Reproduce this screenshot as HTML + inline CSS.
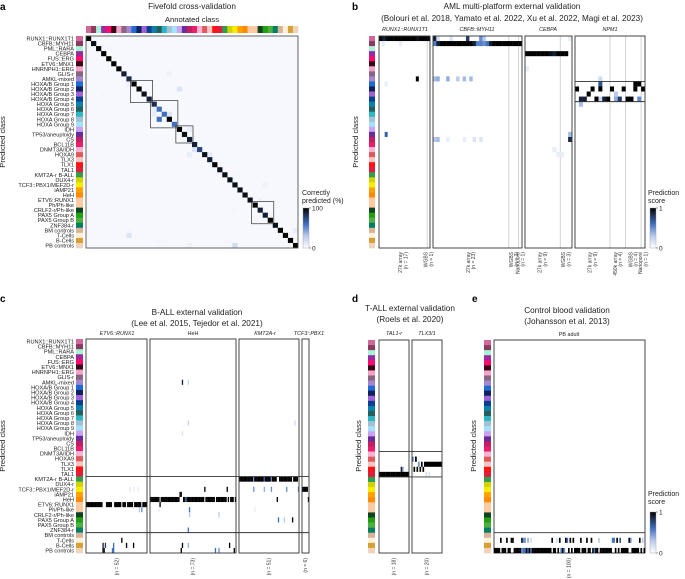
<!DOCTYPE html>
<html><head><meta charset="utf-8">
<style>
html,body{margin:0;padding:0;background:#fff;}
svg{display:block;font-family:"Liberation Sans",sans-serif;}
</style></head>
<body>
<svg id="fig" width="685" height="579" viewBox="0 0 685 579" xmlns="http://www.w3.org/2000/svg">
<defs>
<linearGradient id="cbar" x1="0" y1="1" x2="0" y2="0">
<stop offset="0" stop-color="#ffffff"/><stop offset="0.3" stop-color="#b9cbec"/><stop offset="0.6" stop-color="#3f6fbf"/><stop offset="0.85" stop-color="#1c2c4c"/><stop offset="1" stop-color="#000000"/>
</linearGradient>
</defs>
<g font-weight="bold" font-size="10">
<text x="0" y="10">a</text>
<text x="352" y="10">b</text>
<text x="0" y="302">c</text>
<text x="352" y="302">d</text>
<text x="472" y="302">e</text>
</g>
<g font-size="8.2" text-anchor="middle" fill="#222">
<text x="192" y="9">Fivefold cross-validation</text>
<text x="192" y="22" font-size="7.6">Annotated class</text>
<text x="512" y="9">AML multi-platform external validation</text>
<text x="512" y="21">(Bolouri et al. 2018, Yamato et al. 2022, Xu et al. 2022, Magi et al. 2023)</text>
<text x="197" y="315">B-ALL external validation</text>
<text x="197" y="326">(Lee et al. 2015, Tejedor et al. 2021)</text>
<text x="410" y="311">T-ALL external validation</text>
<text x="410" y="322">(Roels et al. 2020)</text>
<text x="567" y="313">Control blood validation</text>
<text x="567" y="324">(Johansson et al. 2013)</text>
</g>
<g font-size="7" fill="#222">
<text x="302" y="195">Correctly</text>
<text x="302" y="203">predicted (%)</text>
<text x="648" y="195">Prediction</text>
<text x="648" y="203">score</text>
<text x="648" y="496">Prediction</text>
<text x="648" y="504">score</text>
</g>
<g id="root"></g>
</svg>
<script>
// ---- data ----
const classes = ["RUNX1::RUNX1T1","CBFB::MYH11","PML::RARA","CEBPA","FUS::ERG","ETV6::MNX1","HNRNPH1::ERG","GLIS-r","AMKL-mixed","HOXA/B Group 1","HOXA/B Group 2","HOXA/B Group 3","HOXA/B Group 4","HOXA Group 5","HOXA Group 6","HOXA Group 7","HOXA Group 8","HOXA Group 9","IDH","TP53/aneuploidy","CS","BCL11B","DNMT3A/IDH","HOXA9","TLX3","TLX1","TAL1","KMT2A-r B-ALL","DUX4-r","TCF3::PBX1/MEF2D-r","iAMP21","HeH","ETV6::RUNX1","Ph/Ph-like","CRLF2-r/Ph-like","PAX5 Group A","PAX5 Group B","ZNF384-r","BM controls","T-Cells","B-Cells","PB controls"];
const classColors = ["#d0699a","#8c3b5f","#a6f2d6","#9b2a9e","#ff0a6c","#3a0715","#f7a1c9","#8a6580","#a585d2","#1e6cd2","#11215f","#a062d6","#0b3f8f","#0b7fae","#25605c","#2fb6c6","#a2c1d2","#a4e1ff","#c9a2f0","#6a2c9a","#c21f62","#ea1f6a","#f8b2d2","#df5a5a","#f7c3c3","#ff1414","#df1f3b","#2f9e4e","#d2d200","#f8ec00","#ffa200","#ff8a00","#ffc9a2","#ffc9a2","#0f4420","#22a012","#4fb040","#008062","#d9b29a","#fff0d8","#d8a032","#f0d3bb"];
// panel a
const diagA = [1,0.95,1,1,1,1,1,0.9,0.85,1,1,0.95,0.9,0.85,0.6,0.6,1,0.6,1,0.95,0.9,0.9,0.75,0.95,0.9,1,0.95,0.95,0.95,0.95,0.95,0.95,0.95,1,0.9,0.9,1,0.95,1,1,1,1];
const offA = [[0,0,0],[8,9,0.08],[16,7,0.08],[18,10,0.15],[3,11,0.05],[13,14,0.1],[13,15,0.1],[14,16,0.6],[16,16,0.4],[16,15,0.15],[8,16,0.05],[20,18,0.1],[19,19,0.1],[27,16,0.05],[21,22,0.15],[20,23,0.1],[24,23,0.1],[26,25,0.05],[25,24,0.05],[29,27,0.05],[35,29,0.08],[30,30,0.1],[31,31,0.05],[34,32,0.08],[29,34,0.05],[33,36,0.05],[27,40,0.05],[8,38,0.05],[8,39,0.15],[29,41,0.2],[20,41,0.08],[14,41,0.05],[41,38,0.1],[4,2,0.05]];
// panel b
const bRunxPred = [0,0,0,0,0,0,0,0,0,0,0,0,0,0,0,0,0,0];
const bRunxScore = [1,0.9,0.95,1,1,1,1,1,1,1,1,1,1,0.95,1,1,1,1];
const bRunxExtra = [[13,8,1],[2,19,0.65],[1,1,0.1],[7,1,0.1],[2,9,0.1]];
const bCbfbPred = [1,1,1,1,1,1,1,1,1,1,1,1,1,1,1,1,1,1,1,1,1,1,1,1,1,1,1];
const bCbfbScore = [0.55,0.9,1,1,1,1,1,1,1,1,1,1,0.9,0.55,0.55,0.5,0.6,0.9,1,1,1,1,1,1,1,1,1];
const bCbfbExtra = [[0,0,0.9],[1,0,0.2],[5,0,0.15],[10,0,0.8],[14,0,0.5],[15,0,0.3],[0,8,0.35],[1,8,0.4],[4,8,0.4],[7,8,0.3],[9,8,0.35],[11,8,0.35],[0,20,0.3],[1,20,0.35],[4,20,0.1],[9,20,0.1],[12,20,0.15],[14,20,0.15]];
const bCebpaPred = [3,3,3,3,3,3,3,3,3,3,3,20];
const bCebpaScore = [1,1,1,1,1,1,0.95,0.9,1,1,1,0.85];
const bCebpaExtra = [[11,19,0.35],[7,22,0.1],[8,23,0.1],[9,23,0.1],[11,0,0.1],[0,6,0.1]];
const bNpmPred = [10,12,12,11,10,12,10,12,12,10,12,12,10,12,12,9,9,10];
const bNpmScore = [1,0.9,0.9,1,1,1,1,0.9,1,1,0.4,0.8,1,1,1,1,1,1];
const bNpmExtra = [[1,13,0.35],[6,8,0.2],[6,9,0.7],[6,12,0.2],[10,11,0.3],[15,10,1],[16,12,0.5]];
// panel c
const cEtvPred = [32,32,32,32,32,32,32,32,32,32,32,32,32,32,40,41,40,32,32,32,32,32,41,40,32,32,32,32,32,32,39,32,32,32,40,32,32,32,32,32,40,32,32,32,32,32,32,33,32,32,32,32];
const cEtvScore = [1,1,1,1,1,1,1,1,1,1,1,1,1,1,0.9,0.9,0.8,1,1,1,1,1,0.6,0.6,1,1,1,1,1,1,1,1,1,1,1,1,1,1,1,1,1,1,1,1,1,1,1,0.5,1,1,1,1];
const cHehPred = [31,31,31,31,31,31,31,31,32,31,31,31,31,31,31,31,31,31,31,31,31,31,31,31,31,30,41,40,31,31,31,31,31,31,31,31,31,31,31,31,31,31,31,31,31,31,29,31,31,31,31,31,31,31,31,41,31,31,31,31,31,31,31,31,31,29,31,40,31,31,31,41,31];
const cHehScore = [1,1,1,1,1,1,1,1,1,1,1,1,1,1,1,1,1,1,1,1,1,1,1,1,1,1,1,1,1,1,0.5,1,1,1,1,1,1,1,1,1,1,1,1,1,1,1,1,1,1,1,1,1,1,1,1,0.6,1,1,1,1,1,1,1,1,1,1,1,1,1,1,1,1,1];
const cKmtPred = [27,27,27,27,27,27,27,27,27,27,27,27,27,27,27,27,27,27,27,27,27,27,27,27,27,27,27,27,27,27,27,27,31,35,27,27,27,27,27,27,27,27,27,27,27,35,27,27,27,27,29];
const cKmtScore = [1,1,1,1,1,1,1,1,1,1,1,1,0.5,1,1,1,1,1,1,1,1,0.6,1,1,1,1,1,0.5,1,1,1,1,1,0.6,1,1,1,1,1,1,1,1,1,1,1,1,1,1,1,1,0.5];
const cTcfPred = [29,29,29,29,29,31];
const cTcfScore = [1,1,1,1,1,1];
// panel d
const dTalPred = [26,26,26,26,26,26,26,26,26,26,26,26,26,26,26,26,26,26];
const dTalExtra = [[13,25,0.9],[14,25,0.3]];
const dTlxPred = [23,25,23,25,24,25,24,25,24,24,24,24,24,24,24,24,24,24,24,24];
const dTlxScore = [0.6,1,1,1,0.5,1,1,1,1,1,1,1,1,1,1,1,1,1,1,1];
// panel e
const eTcellIdx = [4,8,11,12,18,19,20,22,24,38,41,43,47,48,50,52,57,61,64,69,78,79,81,83,89,90,96,98];
const eTcellScore = [1,1,1,1,1,0.5,0.5,0.4,0.2,1,0.2,1,1,0.6,1,1,1,1,1,0.3,0.6,0.6,1,0.7,1,0.5,1,0.3];
const ePbScore = [1,1,1,1,0,1,1,1,0,1,1,0,0,1,1,1,1,1,0.5,0.6,0.6,1,0.7,1,0.6,1,1,1,1,1,1,1,1,1,1,1,1,1,0,1,1,0,1,0,0.6,1,0.5,0,0,1,0,1,0,1,1,1,1,0,1,1,1,0,1,1,0,1,0.6,1,1,0,1,1,1,1,1,1,1,1,0,0,1,0,1,0,1,1,1,1,1,0,0,1,1,1,1,1,0,1,0,1];

// ---- helpers ----
const NS="http://www.w3.org/2000/svg";
const root=document.getElementById('root');
function mk(tag,attrs,parent){const e=document.createElementNS(NS,tag);for(const k in attrs)e.setAttribute(k,attrs[k]);(parent||root).appendChild(e);return e;}
const stops=[[0,[255,255,255]],[0.3,[185,203,236]],[0.6,[63,111,191]],[0.85,[28,44,76]],[1,[0,0,0]]];
function col(v){v=Math.max(0,Math.min(1,v));for(let i=1;i<stops.length;i++){if(v<=stops[i][0]){const a=stops[i-1],b=stops[i];const t=(v-a[0])/(b[0]-a[0]);const c=a[1].map((x,j)=>Math.round(x+(b[1][j]-x)*t));return `rgb(${c[0]},${c[1]},${c[2]})`;}}return '#000';}
function rowScale(y0,y1){const h=(y1-y0)/42;return {y:i=>y0+i*h,h:h};}
function colScale(x0,x1,n){const w=(x1-x0)/n;return {x:i=>x0+i*w,w:w};}
function strip(x,y0,y1,w,name){const rs=rowScale(y0,y1);const g=mk('g',{});
 classColors.forEach((c,i)=>{const r=mk('rect',{x:x,y:rs.y(i),width:w,height:rs.h+0.3,fill:c},g);});}
function labels(xr,y0,y1,name){const rs=rowScale(y0,y1);const g=mk('g',{'font-size':'5.6','text-anchor':'end',fill:'#222'});
 classes.forEach((c,i)=>{const t=mk('text',{x:xr,y:rs.y(i)+rs.h*0.5+2},g);t.textContent=c;});}
function cell(g,cs,rs,s,r,v){if(v<=0.02)return;const e=mk('rect',{x:cs.x(s),y:rs.y(r),width:cs.w+0.15,height:rs.h,fill:col(v)},g);}
function subpanel(x0,x1,y0,y1,n,pred,score,extra,name,seps){
 const g=mk('g',{});
 const cs=colScale(x0,x1,n),rs=rowScale(y0,y1);
 (seps||[]).forEach(s=>{const l=mk('line',{x1:cs.x(s),x2:cs.x(s),y1:y0,y2:y1,stroke:'#c8c8c8','stroke-width':0.8},g);});
 (extra||[]).forEach(e=>cell(g,cs,rs,e[0],e[1],e[2]));
 pred.forEach((p,i)=>cell(g,cs,rs,i,p,score?score[i]:1));
 const b=mk('rect',{x:x0,y:y0,width:x1-x0,height:y1-y0,fill:'none',stroke:'#333','stroke-width':0.9},g);
 return {cs,rs,g};}
function hline(x0,x1,y,name){const l=mk('line',{x1:x0,x2:x1,y1:y,y2:y,stroke:'#333','stroke-width':0.9});}
function txt(x,y,s,attrs,name){const t=mk('text',Object.assign({x:x,y:y},attrs||{}));t.textContent=s;return t;}
function rotLabel(x,y,lines,name){const g=mk('g',{transform:`translate(${x},${y}) rotate(-90)`,'font-size':'5','text-anchor':'end',fill:'#333'});
 lines.forEach((s,i)=>{const t=mk('text',{x:0,y:(i-(lines.length-1)/2)*5.2+1.7},g);t.textContent=s;});}
function colorbar(x,y0,y1,top,bot,name){const r=mk('rect',{x:x,y:y0,width:6,height:y1-y0,fill:'url(#cbar)',stroke:'#999','stroke-width':0.4});
 mk('line',{x1:x+6,x2:x+8,y1:y0,y2:y0,stroke:'#333','stroke-width':0.5});mk('line',{x1:x+6,x2:x+8,y1:y1,y2:y1,stroke:'#333','stroke-width':0.5});
 txt(x+9,y0+2.5,top,{'font-size':'6.5',fill:'#222'},name+'-max');txt(x+9,y1+2.5,bot,{'font-size':'6.5',fill:'#222'},name+'-min');}
function ylab(x,y,name){txt(0,0,'Predicted class',{'font-size':'7.6','text-anchor':'middle',fill:'#222',transform:`translate(${x},${y}) rotate(-90)`},name);}

// ---- panel a ----
(function(){
 const x0=86,x1=298,y0=36,y1=248;
 mk('rect',{x:x0,y:y0,width:x1-x0,height:y1-y0,fill:'#f6f8fd'});
 const tg=mk('g',{});
 const cs=colScale(x0,x1,42),rs=rowScale(y0,y1);
 classColors.forEach((c,i)=>{const r=mk('rect',{x:cs.x(i),y:26,width:cs.w+0.3,height:7,fill:c},tg);});
 strip(76,y0,y1,7,'predicted-class-strip-a');labels(74,y0,y1,'row-labels-a');
 const g=mk('g',{});
 offA.forEach(e=>cell(g,cs,rs,e[0],e[1],e[2]));
 diagA.forEach((v,i)=>cell(g,cs,rs,i,i,v));
 const b=mk('rect',{x:x0,y:y0,width:x1-x0,height:y1-y0,fill:'none',stroke:'#555','stroke-width':0.9});
 [[9,12],[13,17],[18,20],[33,36]].forEach(([a,z])=>{const r=mk('rect',{x:cs.x(a)-1,y:rs.y(a)-1,width:cs.x(z+1)-cs.x(a)+2,height:rs.y(z+1)-rs.y(a)+2,fill:'none',stroke:'#333','stroke-width':0.7});});
 ylab(5,142,'y-axis-title-a');
 colorbar(303,208,248,'100','0','colorbar-a');
})();

// ---- panel b ----
(function(){
 const y0=36,y1=248;
 strip(369,y0,y1,6,'predicted-class-strip-b');ylab(358,142,'y-axis-title-b');
 const it={'font-size':'5.4','text-anchor':'middle','font-style':'italic',fill:'#222'};
 let p=subpanel(379,430,y0,y1,18,bRunxPred,bRunxScore,bRunxExtra,'aml-runx1-panel',[17]);
 txt(405,31,'RUNX1::RUNX1T1',it,'subtitle-runx1');
 rotLabel(p.cs.x(8.5),252,['27k array','(n = 17)'],'label-27k-runx1');rotLabel(p.cs.x(17.5),252,['WGBS','(n = 1)'],'label-wgbs-runx1');
 p=subpanel(433,522,y0,y1,27,bCbfbPred,bCbfbScore,bCbfbExtra,'aml-cbfb-panel',[23,26]);
 txt(477,31,'CBFB::MYH11',it,'subtitle-cbfb');
 rotLabel(p.cs.x(11.5),252,['27k array','(n = 23)'],'label-27k-cbfb');rotLabel(p.cs.x(24.5),252,['WGBS','(n = 3)'],'label-wgbs-cbfb');rotLabel(p.cs.x(26.5),252,['Nanopore','(n = 1)'],'label-nanopore-cbfb');
 p=subpanel(525,572,y0,y1,12,bCebpaPred,bCebpaScore,bCebpaExtra,'aml-cebpa-panel',[9]);
 txt(548,31,'CEBPA',it,'subtitle-cebpa');
 rotLabel(p.cs.x(4.5),252,['27k array','(n = 9)'],'label-27k-cebpa');rotLabel(p.cs.x(10.5),252,['WGBS','(n = 3)'],'label-wgbs-cebpa');
 p=subpanel(575,645,y0,y1,18,bNpmPred,bNpmScore,bNpmExtra,'aml-npm1-panel',[9,13,17]);
 txt(610,31,'NPM1',it,'subtitle-npm1');
 hline(575,645,p.rs.y(9),'npm1-group-line-top');hline(575,645,p.rs.y(13),'npm1-group-line-bottom');
 rotLabel(p.cs.x(4.5),252,['27k array','(n = 9)'],'label-27k-npm1');rotLabel(p.cs.x(11),252,['450k array','(n = 4)'],'label-450k-npm1');rotLabel(p.cs.x(15),252,['WGBS','(n = 4)'],'label-wgbs-npm1');rotLabel(p.cs.x(17.5),252,['Nanopore','(n = 1)'],'label-nanopore-npm1');
 colorbar(650,208,248,'1','0','colorbar-b');
})();

// ---- panel c ----
(function(){
 const y0=339,y1=553;
 strip(76,y0,y1,7,'predicted-class-strip-c');labels(74,y0,y1,'row-labels-c');ylab(5,446,'y-axis-title-c');
 const it={'font-size':'5.4','text-anchor':'middle','font-style':'italic',fill:'#222'};
 const rs=rowScale(y0,y1);
 subpanel(86,147,y0,y1,52,cEtvPred,cEtvScore,[[40,29,0.1],[44,29,0.1],[45,33,0.3],[37,29,0.15],[14,41,1],[23,41,0.6]],'ball-etv6-panel');
 txt(117,335,'ETV6::RUNX1',it,'subtitle-etv6');
 subpanel(150,236,y0,y1,73,cHehPred,cHehScore,[[27,8,0.9],[32,8,0.25],[32,16,0.25],[27,18,0.15],[26,30,0.9],[33,33,0.6],[33,34,0.3],[58,34,0.3],[32,37,0.6],[32,40,0.4],[58,41,0.5],[7,33,0.1]],'ball-heh-panel');
 txt(193,335,'HeH',{'font-size':'5.4','text-anchor':'middle',fill:'#222'},'subtitle-heh');
 subpanel(239,299,y0,y1,51,cKmtPred,cKmtScore,[[12,29,0.5],[21,29,0.4],[27,29,0.5],[40,29,0.5],[47,16,0.2],[38,35,0.3],[13,33,0.1]],'ball-kmt2a-panel');
 txt(265,335,'KMT2A-r',it,'subtitle-kmt2a');
 subpanel(302,309,y0,y1,6,cTcfPred,cTcfScore,[],'ball-tcf3-panel');
 txt(309,335,'TCF3::PBX1',it,'subtitle-tcf3');
 hline(86,309,rs.y(27),'group-line-bcell');hline(86,309,rs.y(38),'group-line-controls');
 rotLabel(117,558,['(n = 52)'],'n-etv6');rotLabel(193,558,['(n = 73)'],'n-heh');rotLabel(269,558,['(n = 51)'],'n-kmt2a');rotLabel(305.5,558,['(n = 6)'],'n-tcf3');
})();

// ---- panel d ----
(function(){
 const y0=340,y1=553;
 strip(368,y0,y1,7,'predicted-class-strip-d');ylab(361,446,'y-axis-title-d');
 const it={'font-size':'5.4','text-anchor':'middle','font-style':'italic',fill:'#222'};
 const rs=rowScale(y0,y1);
 subpanel(379,409,y0,y1,18,dTalPred,null,dTalExtra,'tall-tal1-panel');
 txt(394,335,'TAL1-r',it,'subtitle-tal1');
 subpanel(412,442,y0,y1,20,dTlxPred,dTlxScore,[[2,23,1],[9,26,0.15],[11,26,0.15]],'tall-tlx-panel');
 txt(427,335,'TLX3/1',it,'subtitle-tlx');
 hline(379,442,rs.y(22),'tall-line-top');hline(379,442,rs.y(27),'tall-line-bottom');
 rotLabel(394,558,['(n = 18)'],'n-tal1');rotLabel(427,558,['(n = 20)'],'n-tlx');
})();

// ---- panel e ----
(function(){
 const y0=340,y1=553;
 strip(484,y0,y1,7,'predicted-class-strip-e');ylab(476,446,'y-axis-title-e');
 const rs=rowScale(y0,y1);
 const p=subpanel(494,645,y0,y1,100,[],null,[],'control-blood-panel');
 eTcellIdx.forEach((s,i)=>cell(p.g,p.cs,rs,s,39,eTcellScore[i]));
 ePbScore.forEach((v,s)=>cell(p.g,p.cs,rs,s,41,v));
 txt(569,336,'PB adult',{'font-size':'5.4','text-anchor':'middle',fill:'#222'},'subtitle-pb-adult');
 hline(494,645,rs.y(38),'controls-line');
 rotLabel(569,558,['(n = 100)'],'n-pb');
 colorbar(650,512,553,'1','0','colorbar-e');
})();
</script>
</body></html>
